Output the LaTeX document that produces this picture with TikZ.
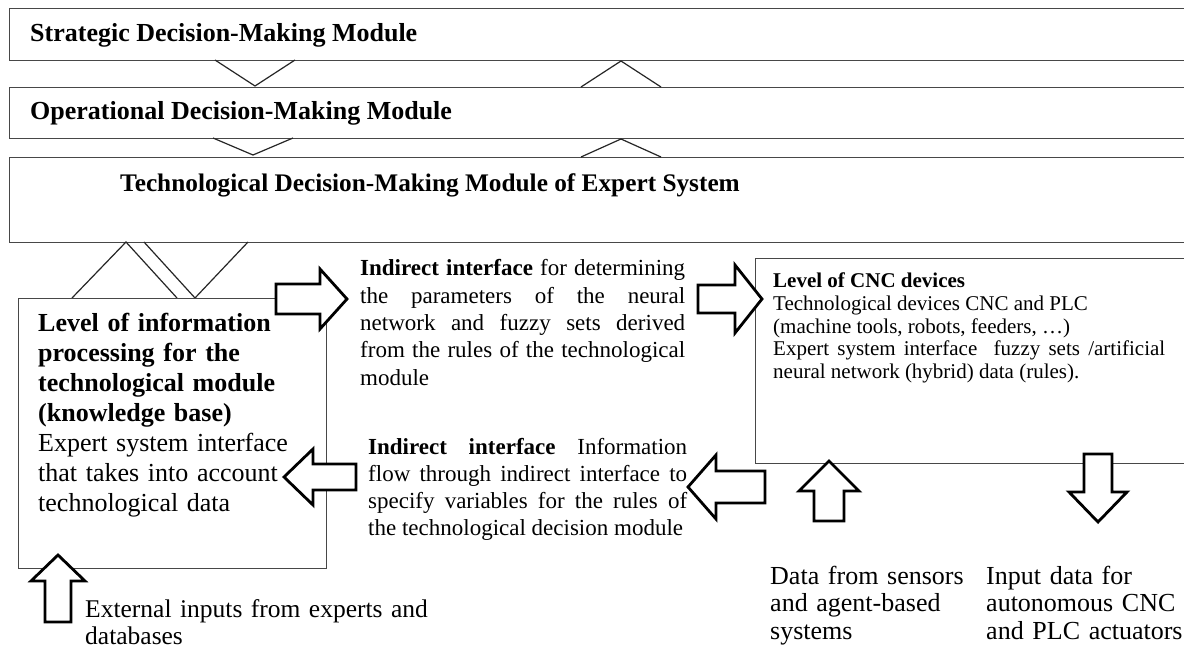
\documentclass[tikz,border=0pt]{standalone}
\usepackage{fontspec}
\setmainfont{Liberation Serif}
% block arrow: #1 tip, #2 direction, #3 total length, #4 head length,
% #5 shaft half-width, #6 head half-width
\newcommand\blockarrow[6]{%
  \draw[blockarr,shift={#1},rotate=#2]
    (0,0) -- (-#4,#6) -- (-#4,#5) -- (-#3,#5) -- (-#3,-#5)
    -- (-#4,-#5) -- (-#4,-#6) -- cycle;}
\begin{document}
\begin{tikzpicture}[x=1pt,y=-1pt,
  frame/.style={draw=black!72,line width=1.3pt,inner sep=0pt,anchor=north west},
  chev/.style={draw=black!85,line width=1.2pt,line join=miter},
  blockarr/.style={draw=black,line width=2.8pt,fill=white,line join=miter,miter limit=8},
  lbl/.style={inner sep=0pt,anchor=base west},
  title/.style={lbl,font=\fontsize{26}{30}\selectfont\bfseries},
  kbtext/.style={lbl,text width=290pt,align=left,font=\fontsize{26}{30}\selectfont},
  midtext/.style={lbl,align=justify,font=\fontsize{23}{27.3}\selectfont},
  cnctext/.style={lbl,text width=392pt,align=justify,font=\fontsize{21}{22.6}\selectfont},
  captext/.style={lbl,text width=220pt,align=left,font=\fontsize{26}{27.5}\selectfont}
]
\useasboundingbox (0,0) rectangle (1184,652);
\clip (0,0) rectangle (1184,652);
\fill[white] (0,0) rectangle (1184,652);

% decision-making modules
\node[frame,minimum width=1200pt,minimum height=52pt] (strategic) at (9,8) {};
\node[frame,minimum width=1200pt,minimum height=51pt] (operational) at (9,87) {};
\node[frame,minimum width=1200pt,minimum height=85pt] (technological) at (9,157) {};
\node[title] (strategicT) at (30,42) {Strategic Decision-Making Module};
\node[title] (operationalT) at (30,120) {Operational Decision-Making Module};
\node[title,font=\fontsize{25.3}{30}\selectfont\bfseries] (technologicalT) at (120,192)
  {Technological Decision-Making Module of Expert System};

% chevrons between the modules
\draw[chev] (215,60) -- (255,86) -- (295,60);
\draw[chev] (581,87) -- (621,61) -- (661,87);
\draw[chev] (213,138) -- (253,155) -- (293,138);
\draw[chev] (581,157) -- (621,139) -- (661,157);
\draw[chev] (72,298) -- (126,242) -- (177,298);
\draw[chev] (144,242) -- (195,298) -- (248,242);

% lower level boxes
\node[frame,minimum width=308pt,minimum height=270pt] (kb) at (18,298) {};
\node[frame,minimum width=500pt,minimum height=205pt] (cnc) at (755,258) {};

\node[kbtext] (kbText) at (38,332) {\textbf{Level of information}\\
  \textbf{processing for the}\\ \textbf{technological module}\\
  \textbf{(knowledge base)}\\ Expert system interface\\
  that takes into account\\ technological data};

\node[midtext,text width=325pt] (upText) at (360,276) {\textbf{Indirect interface} for determining\linebreak
  the parameters of the neural\linebreak network and fuzzy sets derived\linebreak
  from the rules of the technological\linebreak module};

\node[midtext,text width=319pt] (downText) at (368,454) {\textbf{Indirect interface} Information\linebreak
  flow through indirect interface to\linebreak specify variables for the rules of\linebreak
  the technological decision module};

\node[cnctext] (cncText) at (773,288) {\textbf{Level of CNC devices}\\
  Technological devices CNC and PLC\\
  (machine tools, robots, feeders, …)\\
  Expert system interface\ \ fuzzy sets /artificial\linebreak
  neural network (hybrid) data (rules).};

\node[captext,text width=370pt,font=\fontsize{25.5}{27.5}\selectfont] (extText) at (85,617)
  {External inputs from experts and\\ databases};
\node[captext] (sensText) at (770,584) {Data from sensors\\ and agent-based\\ systems};
\node[captext] (actText) at (986,584) {Input data for\\ autonomous CNC\\ and PLC actuators};

% block arrows
\blockarrow{(347,299)}{0}{71}{27}{15}{30}
\blockarrow{(762,299)}{0}{64}{27}{14}{34}
\blockarrow{(284,477)}{180}{72}{29}{13}{28}
\blockarrow{(688,487)}{180}{77}{28}{16}{32}
\blockarrow{(829,461)}{90}{60}{30}{15}{30}
\blockarrow{(1098,522)}{-90}{68}{30}{14}{29}
\blockarrow{(58,555)}{90}{67}{26}{13}{27}
\end{tikzpicture}
\end{document}
